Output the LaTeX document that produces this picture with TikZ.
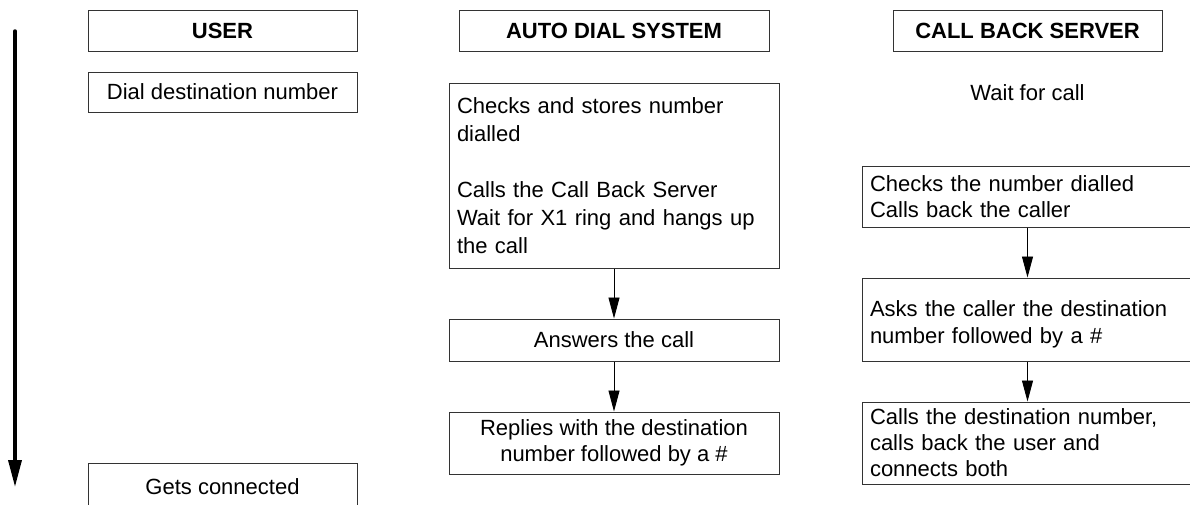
\documentclass[tikz,border=0pt]{standalone}
\usepackage{fontspec}
\setmainfont{Liberation Sans}
\usetikzlibrary{arrows.meta}
\tikzset{
  box/.style={draw=black!80, line width=1pt, rectangle, inner ysep=0pt,
    font=\fontsize{22pt}{26pt}\selectfont},
  head/.style={box, font=\fontsize{22pt}{26pt}\selectfont\bfseries,
    minimum height=41pt, minimum width=#1},
  cbox/.style={box, align=center, inner xsep=0pt, minimum width=#1},
  lbox/.style={box, align=left, inner xsep=8pt, text width=#1},
  flow/.style={-{Triangle[length=21pt,width=11pt]}, line width=0.9pt},
  timeline/.style={-{Triangle[length=27pt,width=13pt]}, line width=3.5pt, line cap=round},
}
\begin{document}
\begin{tikzpicture}[x=1pt,y=-1pt]
  \useasboundingbox (0,0) rectangle (1190,504);
  \clip (0,0) rectangle (1190,504);

  % time axis
  \coordinate (tstart) at (15,31);
  \coordinate (tend) at (15,487);
  \draw[timeline] (tstart) -- (tend);

  % user column
  \node[head=269pt] (user) at (222.5,30.5) {USER};
  \node[cbox=269pt, minimum height=40pt] (dial) at (222.5,92) {Dial destination number};
  \node[cbox=269pt, minimum height=47pt] (conn) at (222.5,486.5) {Gets connected};

  % auto dial system column
  \node[lbox=314pt, minimum height=185pt, font=\fontsize{22pt}{28pt}\selectfont] (store) at (614,175.5)
    {Checks and stores number\\dialled\\[28pt]Calls the Call Back Server\\Wait for X1 ring and hangs up\\the call};
  \node[head=310pt] (ads) at (614,30.5) {AUTO DIAL SYSTEM};
  \node[cbox=330pt, minimum height=42pt] (answer) at (614,340) {Answers the call};
  \node[cbox=330pt, minimum height=62pt] (reply) at (614,443)
    {Replies with the destination\\number followed by a \#};

  % call back server column
  \node[head=269pt] (cbs) at (1027.5,30.5) {CALL BACK SERVER};
  \node[font=\fontsize{22pt}{26pt}\selectfont] (wait) at (1027.5,93) {Wait for call};
  \node[lbox=324pt, minimum height=61pt] (check) at (1032,196.5)
    {Checks the number dialled\\Calls back the caller};
  \node[lbox=324pt, minimum height=83pt, font=\fontsize{22pt}{27pt}\selectfont] (ask) at (1032,319.5)
    {\rule{0pt}{26pt}Asks the caller the destination\\number followed by a \#};
  \node[lbox=324pt, minimum height=82pt] (dest) at (1032,443)
    {Calls the destination number,\\calls back the user and\\connects both};

  % flow arrows
  \draw[flow] (store.south) -- (answer.north);
  \draw[flow] (answer.south) -- (reply.north);
  \draw[flow] (check.south -| cbs) -- (ask.north -| cbs);
  \draw[flow] (ask.south -| cbs) -- (dest.north -| cbs);
\end{tikzpicture}
\end{document}
